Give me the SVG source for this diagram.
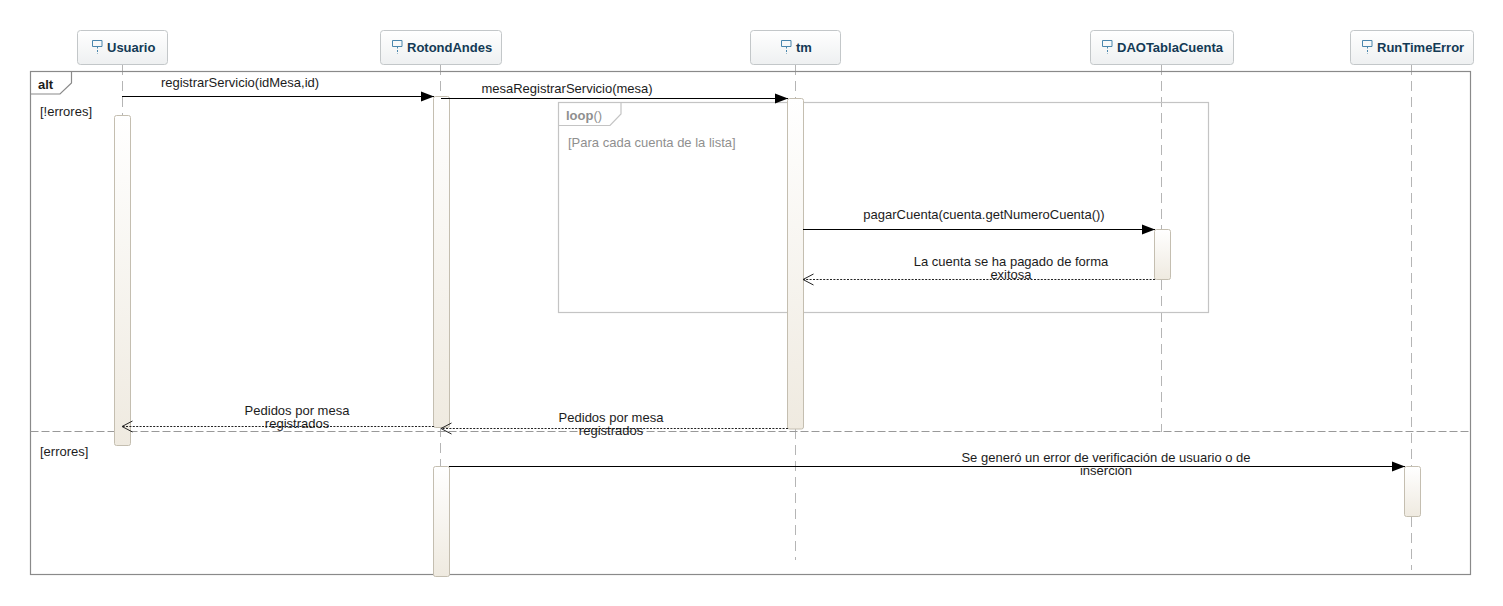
<svg xmlns="http://www.w3.org/2000/svg" width="1503" height="606" viewBox="0 0 1503 606">
<style>
text{font-family:"Liberation Sans",Arial,sans-serif;font-size:13px;fill:#1c1c1c}
.name{font-weight:bold;fill:#133a55;text-anchor:start}
.head{fill:url(#hd);stroke:#c3c7c9;stroke-width:1}
.life{stroke:#b5b5b5;stroke-width:1;stroke-dasharray:10 6;fill:none}
.act{stroke:#c4beb0;stroke-width:1;fill:url(#ac)}
.frame{fill:none;stroke:#8a8a8a;stroke-width:1.2}
.loop{fill:none;stroke:#c4c4c4;stroke-width:1.2}
.msg{stroke:#000;stroke-width:1.2;fill:none}
.ret{stroke:#222;stroke-width:1;stroke-dasharray:2 1.4;fill:none}
.ico{fill:none;stroke:#4a86ad;stroke-width:1}
.c{text-anchor:middle}
</style>
<defs>
<linearGradient id="hd" x1="0" y1="0" x2="0" y2="1"><stop offset="0" stop-color="#fff"/><stop offset="1" stop-color="#eef0f1"/></linearGradient>
<linearGradient id="ac" x1="0" y1="0" x2="0" y2="1"><stop offset="0" stop-color="#fff"/><stop offset="1" stop-color="#efeae0"/></linearGradient>
<marker id="solid" markerUnits="userSpaceOnUse" markerWidth="14" markerHeight="12" refX="13" refY="6" orient="auto"><path d="M0 1 L13 6 L0 11 Z" fill="#000"/></marker>
<marker id="open" markerUnits="userSpaceOnUse" markerWidth="14" markerHeight="14" refX="11" refY="7" orient="auto"><path d="M0.500 1.500 L11 7 L0.500 12.500" fill="none" stroke="#222" stroke-width="1"/></marker>
<g id="ic"><path class="ico" d="M-4.500 -5.500H5V0.500H-4.500Z"/><path d="M0.500 0.500V8" stroke="#4a86ad" stroke-dasharray="2 1.500" fill="none"/></g>
</defs>

<g id="lifelines">
<path class="life" d="M122.500 65V115"/>
<path class="life" d="M440.500 65V97M440.500 427V466"/>
<path class="life" d="M795.500 65V98M795.500 429V560"/>
<path class="life" d="M1161.500 65V229M1161.500 280V432"/>
<path class="life" d="M1411.500 65V466M1411.500 517V570"/>
</g>

<g id="frame-alt">
<rect class="frame" x="30.500" y="71.500" width="1440" height="503"/>
<path class="frame" d="M71.500 71.500V83L60 94H30.500"/>
<text x="38" y="89" style="font-weight:bold">alt</text>
<text x="40" y="116">[!errores]</text>
<path d="M30.500 431.500H1470.500" stroke="#999" stroke-dasharray="8 3" fill="none"/>
<text x="40" y="456">[errores]</text>
</g>

<g id="frame-loop">
<rect class="loop" x="558.500" y="102.500" width="650" height="210"/>
<path class="loop" d="M621 102.500V114L610 125.500H558.500"/>
<text x="566" y="120" style="font-weight:bold;fill:#8f8f8f">loop<tspan style="font-weight:normal">()</tspan></text>
<text x="568" y="147" style="fill:#8f8f8f">[Para cada cuenta de la lista]</text>
</g>

<g id="node-usuario">
<rect class="head" x="77.500" y="30.500" width="90" height="34" rx="3"/>
<use href="#ic" x="97" y="46"/>
<text class="name" x="107" y="52">Usuario</text>
<rect class="act" x="114.500" y="115.500" width="16" height="330" rx="2"/>
</g>
<g id="node-rotondandes">
<rect class="head" x="380.500" y="30.500" width="121" height="34" rx="3"/>
<use href="#ic" x="397" y="46"/>
<text class="name" x="407" y="52">RotondAndes</text>
<rect class="act" x="433.500" y="96.500" width="16" height="331" rx="2"/>
<rect class="act" x="433.500" y="466.500" width="16" height="110" rx="2"/>
</g>
<g id="node-tm">
<rect class="head" x="750.500" y="30.500" width="90" height="34" rx="3"/>
<use href="#ic" x="786" y="46"/>
<text class="name" x="796" y="52">tm</text>
<rect class="act" x="787.500" y="98.500" width="16" height="330.500" rx="2"/>
</g>
<g id="node-daotablacuenta">
<rect class="head" x="1090.500" y="30.500" width="143" height="34" rx="3"/>
<use href="#ic" x="1107" y="46"/>
<text class="name" x="1117" y="52">DAOTablaCuenta</text>
<rect class="act" x="1154.500" y="229.500" width="16" height="50" rx="2"/>
</g>
<g id="node-runtimeerror">
<rect class="head" x="1350.500" y="30.500" width="123" height="34" rx="3"/>
<use href="#ic" x="1367" y="46"/>
<text class="name" x="1377" y="52">RunTimeError</text>
<rect class="act" x="1404.500" y="466.500" width="16" height="50" rx="2"/>
</g>

<g id="connectors">
<path class="msg" marker-end="url(#solid)" d="M122 96.500H434"/>
<text class="c" x="240" y="87">registrarServicio(idMesa,id)</text>
<path class="msg" marker-end="url(#solid)" d="M441 98.500H788"/>
<text class="c" x="567" y="93">mesaRegistrarServicio(mesa)</text>
<path class="msg" marker-end="url(#solid)" d="M803 229.500H1155"/>
<text class="c" x="984" y="219">pagarCuenta(cuenta.getNumeroCuenta())</text>
<path class="ret" marker-end="url(#open)" d="M1155 279.500H803"/>
<text class="c" x="1011" y="266">La cuenta se ha pagado de forma</text>
<text class="c" x="1011" y="279">exitosa</text>
<path class="ret" marker-end="url(#open)" d="M434 426.500H122"/>
<text class="c" x="297" y="415">Pedidos por mesa</text>
<text class="c" x="297" y="428">registrados</text>
<path class="ret" marker-end="url(#open)" d="M788 428.500H441"/>
<text class="c" x="611" y="422">Pedidos por mesa</text>
<text class="c" x="611" y="435">registrados</text>
<path class="msg" marker-end="url(#solid)" d="M449 466.500H1405"/>
<text class="c" x="1106" y="462">Se generó un error de verificación de usuario o de</text>
<text class="c" x="1106" y="475">inserción</text>
</g>
</svg>
